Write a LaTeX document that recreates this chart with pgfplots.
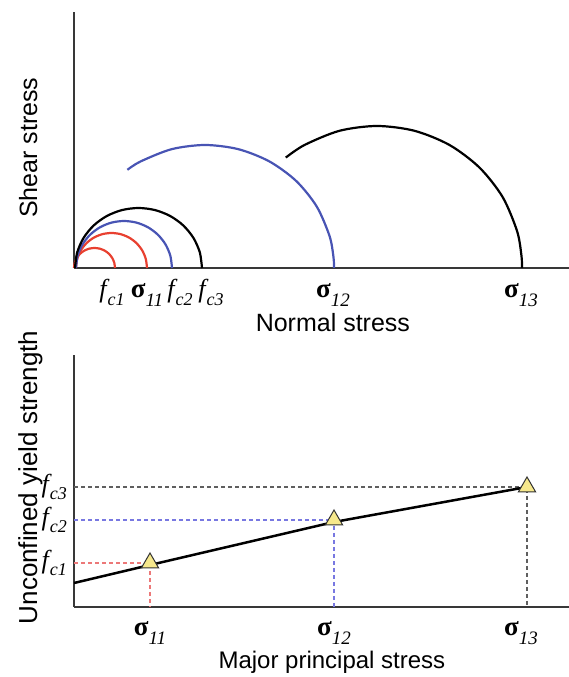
\documentclass[border=0pt]{standalone}
\usepackage{fontspec}
\setmainfont{Liberation Sans}
\newfontfamily\serif{Liberation Serif}
\usepackage{pgfplots}
\pgfplotsset{compat=1.18}
\definecolor{cred}{RGB}{232,64,48}
\definecolor{cblue}{RGB}{72,84,180}
\definecolor{dred}{RGB}{236,120,120}
\definecolor{dblue}{RGB}{120,120,225}
\definecolor{dgray}{RGB}{95,95,95}
\definecolor{tri}{RGB}{246,232,140}
\newcommand\sig[1]{{\serif\fontsize{27}{27}\selectfont\bfseries σ\raisebox{-0.3em}{\fontsize{19}{19}\selectfont\mdseries\itshape #1}}}
\newcommand\fc[1]{{\serif\fontsize{26}{26}\selectfont\itshape f\kern1pt\raisebox{-0.3em}{\fontsize{18}{18}\selectfont c#1}}}
\pgfplotsset{mystyle/.style={
  axis x line=bottom, axis y line=left,
  axis line style={-, line width=2.5pt, draw=black!78},
  major tick length=0pt, tick style={draw=none},
  enlargelimits=false, clip=false, x=1pt, y=1pt,
  label style={font=\fontsize{25}{25}\selectfont},
}}
\begin{document}
\begin{tikzpicture}
\useasboundingbox (0,0) rectangle (569pt,677pt);
% top: Mohr circles
\begin{axis}[mystyle, at={(74pt,409pt)}, anchor=south west,
  xmin=0, xmax=495, ymin=0, ymax=256, ytick=\empty,
  xtick={38,73,106,137,259,447},
  xticklabels={\fc1,\sig{11},\fc2,\fc3,\sig{12},\sig{13}},
  xticklabel style={anchor=base, yshift=-30pt, inner sep=0pt},
  xlabel={Normal stress},
  xlabel style={at={(axis description cs:0.523,0)}, anchor=base, yshift=-64pt},
  ylabel={Shear stress},
  ylabel style={at={(axis description cs:-0.0747,0.47)}, anchor=base}]
\addplot[cred, line width=2.2pt, smooth] coordinates {(41,0)(40.30,5.18)(38.25,10)(35.00,14.14)(30.75,17.32)(25.81,19.32)(20.5,20)(15.19,19.32)(10.25,17.32)(6.00,14.14)(2.75,10)(0.70,5.18)(0,0)};
\addplot[cred, line width=2.2pt, smooth] coordinates {(73,0)(71.79,9.06)(68.24,17.5)(62.60,24.75)(55.25,30.31)(46.69,33.81)(37.5,35)(28.31,33.81)(19.75,30.31)(12.40,24.75)(6.76,17.5)(3.21,9.06)(2,0)};
\addplot[cblue, line width=2.2pt, smooth] coordinates {(98,0)(96.36,12.16)(91.57,23.5)(83.94,33.23)(74,40.70)(62.42,45.40)(50,47)(37.58,45.40)(26,40.70)(16.06,33.23)(8.43,23.5)(3.64,12.16)(2,0)};
\addplot[black, line width=2.2pt, smooth] coordinates {(128,0)(125.83,15.53)(119.49,30)(109.40,42.43)(96.25,51.96)(80.93,57.95)(64.5,60)(48.07,57.95)(32.75,51.96)(19.60,42.43)(9.51,30)(3.17,15.53)(1,0)};
\addplot[cblue, line width=2.2pt, smooth] coordinates {(260,0)(259.5,10.7)(255.6,31.8)(242.7,61.5)(222.2,87.0)(195.5,106.5)(164.4,118.8)(131,123)(97.6,118.8)(66.5,106.5)(53.4,98.2)};
\addplot[black, line width=2.2pt, smooth] coordinates {(448,0)(447.45,12.4)(443.1,36.8)(428.6,71)(405.5,100.4)(375.5,123)(340.5,137.2)(303,142)(265.5,137.2)(230.5,123)(211.8,110.4)};
\end{axis}
% bottom: yield locus
\begin{axis}[mystyle, at={(74pt,70pt)}, anchor=south west,
  xmin=0, xmax=495, ymin=0, ymax=252,
  xtick={76,260,447},
  xticklabels={\sig{11},\sig{12},\sig{13}},
  xticklabel style={anchor=base, yshift=-29pt, inner sep=0pt},
  ytick={44,87,120},
  yticklabels={\fc1,\fc2,\fc3},
  yticklabel style={anchor=east, xshift=-7pt, inner sep=0pt},
  xlabel={Major principal stress},
  xlabel style={at={(axis description cs:0.521,0)}, anchor=base, yshift=-61pt, inner sep=0pt, font=\fontsize{24}{24}\selectfont},
  ylabel={Unconfined yield strength},
  ylabel style={at={(axis description cs:-0.0747,0.514)}, anchor=base, font=\fontsize{26}{26}\selectfont}]
\addplot[dred, line width=2pt, dash pattern=on 4pt off 3pt] coordinates {(0,44)(76,44)(76,0)};
\addplot[dblue, line width=2pt, dash pattern=on 4pt off 3pt] coordinates {(0,87)(260,87)(260,0)};
\addplot[dgray, line width=2pt, dash pattern=on 4pt off 3pt] coordinates {(0,120)(453,120)(453,0)};
\addplot[black, line width=2.5pt] coordinates {(0,24)(76,42)(260,85)(453,120)};
\addplot[only marks, mark=triangle*, mark size=10pt, mark options={fill=tri, draw=black!80, line width=1pt}] coordinates {(76,44)(260,87)(453,120)};
\end{axis}
\end{tikzpicture}
\end{document}
